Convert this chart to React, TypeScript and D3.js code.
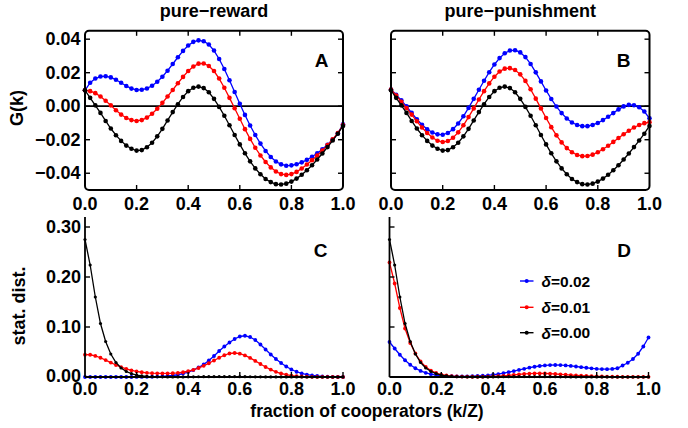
import React from "react";
import * as d3 from "d3";

// Population size; strategies are indexed by k cooperators, k = 0..Z
const Z = 50;
const fractions = d3.range(Z + 1).map((k) => k / Z);

// Gradient of selection G(k), δ = 0 (identical for both incentive schemes)
const gNeutral = [
  0.0095, 0.005, 0.0005, -0.004, -0.0088, -0.0133, -0.0173, -0.0207, -0.0235, -0.0254,
  -0.0265, -0.0262, -0.0245, -0.0218, -0.018, -0.0135, -0.0085, -0.0035, 0.0012, 0.0055,
  0.009, 0.011, 0.0117, 0.0108, 0.0083, 0.0044, -0.0004, -0.0057, -0.0114, -0.0172,
  -0.0228, -0.0281, -0.0329, -0.0371, -0.0406, -0.0434, -0.0453, -0.0465, -0.0467, -0.0462,
  -0.045, -0.0432, -0.0409, -0.0382, -0.0352, -0.0318, -0.0282, -0.0244, -0.0205, -0.0164,
  -0.0118,
];

// pure-reward, δ = 0.02
const gRewardHigh = [
  0.0095, 0.014, 0.0165, 0.0177, 0.0179, 0.0172, 0.0158, 0.014, 0.0121, 0.0105,
  0.0097, 0.0098, 0.0106, 0.0122, 0.0146, 0.0176, 0.0212, 0.0252, 0.0292, 0.033,
  0.0362, 0.0384, 0.0393, 0.0388, 0.0368, 0.0332, 0.0282, 0.0222, 0.0155, 0.0085,
  0.0015, -0.0052, -0.0115, -0.0172, -0.0223, -0.0267, -0.0303, -0.033, -0.0347, -0.0355,
  -0.0353, -0.0346, -0.0335, -0.032, -0.0302, -0.0281, -0.0257, -0.023, -0.0199, -0.0162,
  -0.0108,
];

// pure-reward, δ = 0.01
const gRewardMid = [
  0.0095, 0.009, 0.0078, 0.0058, 0.0033, 0.0005, -0.0024, -0.005, -0.007, -0.0083,
  -0.0088, -0.0083, -0.0068, -0.0045, -0.0015, 0.002, 0.0058, 0.0097, 0.0137, 0.0175,
  0.021, 0.0237, 0.0254, 0.0255, 0.024, 0.021, 0.0165, 0.011, 0.005, -0.0012,
  -0.0075, -0.0137, -0.0195, -0.0248, -0.0294, -0.0333, -0.0365, -0.039, -0.0405, -0.041,
  -0.0405, -0.0392, -0.0372, -0.0348, -0.0322, -0.0294, -0.0264, -0.0232, -0.0198, -0.016,
  -0.0112,
];

// pure-punishment, δ = 0.02
const gPunishHigh = [
  0.01, 0.0068, 0.0035, -0.0001, -0.004, -0.0078, -0.0111, -0.0138, -0.0157, -0.0168,
  -0.017, -0.016, -0.0137, -0.0103, -0.006, -0.001, 0.0044, 0.0098, 0.0152, 0.0203,
  0.0249, 0.0287, 0.0316, 0.0332, 0.0334, 0.0321, 0.0293, 0.0252, 0.0202, 0.0148,
  0.0094, 0.0043, -0.0002, -0.0041, -0.0073, -0.0097, -0.0112, -0.0119, -0.0119, -0.0112,
  -0.01, -0.0083, -0.0063, -0.0041, -0.0019, -0.0001, 0.0008, 0.0006, -0.0006, -0.0032,
  -0.0072,
];

// pure-punishment, δ = 0.01
const gPunishMid = [
  0.01, 0.0064, 0.0027, -0.0011, -0.005, -0.009, -0.0127, -0.016, -0.0187, -0.0206,
  -0.0214, -0.0208, -0.0188, -0.0156, -0.0114, -0.0065, -0.0013, 0.004, 0.009, 0.0136,
  0.0176, 0.0207, 0.0224, 0.0227, 0.0216, 0.019, 0.0151, 0.0101, 0.0045, -0.0013,
  -0.007, -0.0125, -0.0174, -0.0216, -0.025, -0.0275, -0.0291, -0.0298, -0.0297, -0.0289,
  -0.0275, -0.0257, -0.0236, -0.0213, -0.019, -0.0167, -0.0146, -0.0127, -0.0112, -0.0101,
  -0.0095,
];

// Stationary distribution, δ = 0 (identical for both schemes)
const distNeutral = [
  0.275, 0.224, 0.16, 0.107, 0.071, 0.046, 0.029, 0.018, 0.011, 0.0066,
  0.0039, 0.0023, 0.0013, 0.0008, 0.0005, 0.0003, 0.0002, 0.0002, 0.0002, 0.0002,
  0.0003, 0.0004, 0.0005, 0.0006, 0.0007, 0.0008, 0.0009, 0.0009, 0.0009, 0.0008,
  0.0007, 0.0006, 0.0005, 0.0004, 0.0003, 0.0002, 0.0002, 0.0001, 0.0001, 0.0001,
  0.0001, 0.0001, 0.0001, 0, 0, 0, 0, 0, 0, 0,
  0,
];

const distRewardHigh = [
  0, 0, 0, 0, 0, 0, 0, 0, 0, 0,
  0.0001, 0.0002, 0.0003, 0.0005, 0.0008, 0.0013, 0.002, 0.003, 0.0045, 0.0068,
  0.0098, 0.0138, 0.019, 0.025, 0.033, 0.042, 0.052, 0.061, 0.069, 0.076,
  0.081, 0.0825, 0.08, 0.074, 0.065, 0.055, 0.045, 0.036, 0.028, 0.021,
  0.015, 0.0105, 0.0072, 0.0048, 0.0031, 0.002, 0.0012, 0.0007, 0.0004, 0.0002,
  0.0001,
];

const distRewardMid = [
  0.0447, 0.0445, 0.0422, 0.0385, 0.0338, 0.0288, 0.024, 0.0198, 0.0162, 0.0133,
  0.0111, 0.0095, 0.0084, 0.0077, 0.0073, 0.0071, 0.0072, 0.0075, 0.0082, 0.0095,
  0.0115, 0.0144, 0.018, 0.0224, 0.0275, 0.033, 0.0385, 0.0435, 0.047, 0.048,
  0.0467, 0.0432, 0.0382, 0.0322, 0.026, 0.02, 0.0148, 0.0104, 0.007, 0.0047,
  0.0029, 0.0017, 0.001, 0.0006, 0.0003, 0.0002, 0.0001, 0.0001, 0, 0,
  0,
];

const distPunishHigh = [
  0.07, 0.057, 0.0445, 0.0335, 0.0245, 0.0175, 0.0122, 0.0084, 0.0057, 0.0039,
  0.0027, 0.002, 0.0016, 0.0014, 0.0013, 0.0014, 0.0016, 0.002, 0.0026, 0.0034,
  0.0045, 0.0059, 0.0076, 0.0096, 0.0118, 0.0141, 0.0164, 0.0186, 0.0205, 0.022,
  0.0231, 0.0238, 0.024, 0.0238, 0.0232, 0.0222, 0.021, 0.0197, 0.0185, 0.0174,
  0.0164, 0.0158, 0.0157, 0.0162, 0.0175, 0.023, 0.0285, 0.036, 0.0465, 0.061,
  0.079,
];

const distPunishMid = [
  0.229, 0.187, 0.138, 0.097, 0.068, 0.047, 0.031, 0.02, 0.0128, 0.008,
  0.0049, 0.003, 0.0019, 0.0012, 0.0008, 0.0006, 0.0005, 0.0005, 0.0006, 0.0008,
  0.0011, 0.0016, 0.0023, 0.0032, 0.0042, 0.0052, 0.0061, 0.0067, 0.0071, 0.0072,
  0.007, 0.0066, 0.006, 0.0053, 0.0046, 0.0039, 0.0032, 0.0026, 0.0021, 0.0017,
  0.0013, 0.001, 0.0008, 0.0006, 0.0005, 0.0004, 0.0003, 0.0003, 0.0003, 0.0003,
  0.0004,
];

const deltaLabels = ["0.02", "0.01", "0.00"];
const deltaColors = ["#0000ff", "#ff0000", "#000000"];

const xTicks = [0, 0.2, 0.4, 0.6, 0.8, 1.0];
const gTicks = [-0.04, -0.02, 0, 0.02, 0.04];
const distTicks = [0, 0.1, 0.2, 0.3];
const columnTitles = ["pure\u2212reward", "pure\u2212punishment"];
const panelLetters = ["A", "B", "C", "D"];

const FONT = "'Liberation Sans', Arial, Helvetica, sans-serif";
const W = 688;
const H = 428;

const topRows = [
  { x0: 85, x1: 343, series: [gRewardHigh, gRewardMid, gNeutral] },
  { x0: 391, x1: 649.5, series: [gPunishHigh, gPunishMid, gNeutral] },
];
const bottomRows = [
  { x0: 85, x1: 343, series: [distRewardHigh, distRewardMid, distNeutral] },
  { x0: 389.5, x1: 648.5, series: [distPunishHigh, distPunishMid, distNeutral] },
];

const gScale = d3.scaleLinear().domain([-0.05, 0.045]).range([190, 30.8]);
const distScale = d3.scaleLinear().domain([0, 0.32]).range([377, 217]);

type Scale = d3.ScaleLinear<number, number>;

function Curve({ values, x, y, color, r }: { values: number[]; x: Scale; y: Scale; color: string; r: number }) {
  const line = d3
    .line<number>()
    .x((_, i) => x(fractions[i]))
    .y((v) => y(v));
  return (
    <g>
      <path d={line(values) || ""} fill="none" stroke={color} strokeWidth={1.3} />
      {values.map((v, i) => (
        <circle key={i} cx={x(fractions[i])} cy={y(v)} r={r} fill={color} />
      ))}
    </g>
  );
}

const tickFont = { fontFamily: FONT, fontWeight: 700, fontSize: 18 } as const;

export default function App() {
  const fmt1 = d3.format(".1f");
  const fmt2 = d3.format(".2f");
  const tickLen = 5;

  return (
    <svg
      width={W}
      height={H}
      viewBox={`0 0 ${W} ${H}`}
      style={{ position: "absolute", left: 0, top: 0, background: "#fff" }}
    >
      {/* column titles */}
      {topRows.map((p, ci) => (
        <text key={ci} x={(p.x0 + p.x1) / 2} y={16.5} textAnchor="middle" {...tickFont}>
          {columnTitles[ci]}
        </text>
      ))}

      {/* G(k) panels */}
      {topRows.map((p, ci) => {
        const x = d3.scaleLinear().domain([0, 1]).range([p.x0, p.x1]);
        const [yBottom, yTop] = gScale.range();
        return (
          <g key={"top" + ci}>
            <line x1={p.x0} x2={p.x1} y1={gScale(0)} y2={gScale(0)} stroke="#000" strokeWidth={1.8} />
            {p.series.map((vals, si) => (
              <Curve key={si} values={vals} x={x} y={gScale} color={deltaColors[si]} r={2.3} />
            ))}
            {xTicks.slice(1, -1).map((t) => (
              <g key={t}>
                <line x1={x(t)} x2={x(t)} y1={yBottom} y2={yBottom - tickLen} stroke="#000" strokeWidth={1.4} />
                <line x1={x(t)} x2={x(t)} y1={yTop} y2={yTop + tickLen} stroke="#000" strokeWidth={1.4} />
              </g>
            ))}
            {gTicks.map((t) => (
              <g key={t}>
                <line x1={p.x0} x2={p.x0 + tickLen} y1={gScale(t)} y2={gScale(t)} stroke="#000" strokeWidth={1.4} />
                <line x1={p.x1} x2={p.x1 - tickLen} y1={gScale(t)} y2={gScale(t)} stroke="#000" strokeWidth={1.4} />
              </g>
            ))}
            <rect
              x={p.x0}
              y={yTop}
              width={p.x1 - p.x0}
              height={yBottom - yTop}
              rx={4}
              fill="none"
              stroke="#000"
              strokeWidth={2}
            />
            {xTicks.map((t) => (
              <text key={t} x={x(t)} y={203.5} textAnchor="middle" dominantBaseline="central" {...tickFont}>
                {fmt1(t)}
              </text>
            ))}
            {ci === 0 &&
              gTicks.map((t) => (
                <text key={t} x={80.5} y={gScale(t)} textAnchor="end" dominantBaseline="central" {...tickFont}>
                  {fmt2(t).replace("-", "\u2212")}
                </text>
              ))}
            <text x={ci === 0 ? 321.5 : 623.5} y={66.5} textAnchor="middle" {...tickFont} fontSize={19}>
              {panelLetters[ci]}
            </text>
          </g>
        );
      })}

      {/* stationary distribution panels */}
      {bottomRows.map((p, ci) => {
        const x = d3.scaleLinear().domain([0, 1]).range([p.x0, p.x1]);
        const [yBottom, yTop] = distScale.range();
        return (
          <g key={"bot" + ci}>
            {p.series.map((vals, si) => (
              <Curve
                key={si}
                values={vals}
                x={x}
                y={distScale}
                color={deltaColors[si]}
                r={si === 2 ? 1.6 : 1.9}
              />
            ))}
            <line x1={p.x0} x2={p.x0} y1={yTop} y2={yBottom} stroke="#000" strokeWidth={1.8} />
            <line x1={p.x0} x2={p.x1} y1={yBottom} y2={yBottom} stroke="#000" strokeWidth={1.8} />
            {xTicks.slice(1).map((t) => (
              <line key={t} x1={x(t)} x2={x(t)} y1={yBottom} y2={yBottom - tickLen} stroke="#000" strokeWidth={1.4} />
            ))}
            {distTicks.slice(1).map((t) => (
              <line
                key={t}
                x1={p.x0}
                x2={p.x0 + tickLen}
                y1={distScale(t)}
                y2={distScale(t)}
                stroke="#000"
                strokeWidth={1.4}
              />
            ))}
            {xTicks.map((t) => (
              <text key={t} x={x(t)} y={389} textAnchor="middle" dominantBaseline="central" {...tickFont}>
                {fmt1(t)}
              </text>
            ))}
            {ci === 0 &&
              distTicks.map((t) => (
                <text key={t} x={81} y={distScale(t) - (t === 0 ? 1 : 0)} textAnchor="end" dominantBaseline="central" {...tickFont}>
                  {fmt2(t)}
                </text>
              ))}
            <text x={ci === 0 ? 320.5 : 624} y={256.5} textAnchor="middle" {...tickFont} fontSize={19}>
              {panelLetters[ci + 2]}
            </text>
          </g>
        );
      })}

      {/* legend */}
      {deltaLabels.map((d, i) => {
        const ly = [281, 307.3, 332.7][i];
        return (
          <g key={d}>
            <line x1={520} x2={533.5} y1={ly} y2={ly} stroke={deltaColors[i]} strokeWidth={1.4} />
            <circle cx={526.7} cy={ly} r={2} fill={deltaColors[i]} />
            <text x={541.5} y={ly} dominantBaseline="central" fontFamily={FONT} fontWeight={700} fontSize={15.5}>
              <tspan fontStyle="italic">δ</tspan>
              {"=" + d}
            </text>
          </g>
        );
      })}

      {/* axis titles */}
      <text
        transform="translate(17,108) rotate(-90)"
        textAnchor="middle"
        dominantBaseline="central"
        {...tickFont}
      >
        G(k)
      </text>
      <text
        transform="translate(19,306) rotate(-90)"
        textAnchor="middle"
        dominantBaseline="central"
        {...tickFont}
      >
        stat. dist.
      </text>
      <text x={367} y={417} textAnchor="middle" {...tickFont} fontSize={17.5}>
        fraction of cooperators (k/Z)
      </text>
    </svg>
  );
}
